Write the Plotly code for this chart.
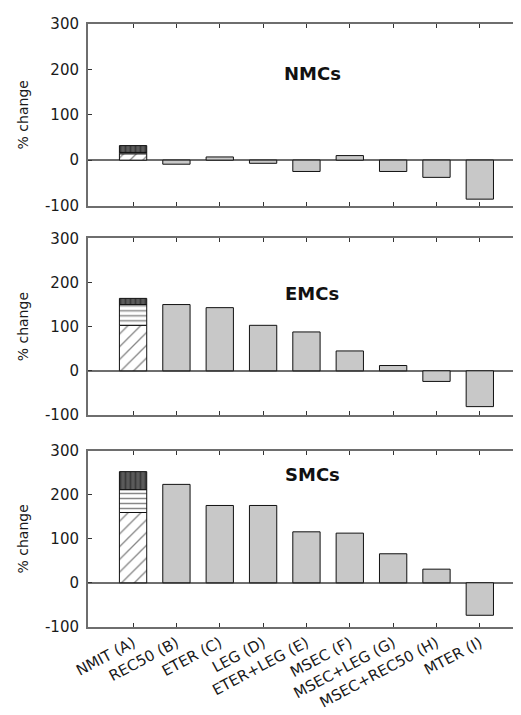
import plotly.graph_objects as go

categories = ["NMIT (A)", "REC50 (B)", "ETER (C)", "LEG (D)", "ETER+LEG (E)",
              "MSEC (F)", "MSEC+LEG (G)", "MSEC+REC50 (H)", "MTER (I)"]
panels = ["NMCs", "EMCs", "SMCs"]

# stacked components of NMIT (A): hatched, striped, dark
nmit_hatch = [14, 103, 160]
nmit_stripe = [3, 47, 52]
nmit_dark = [15, 14, 41]

# other scenarios B..I
other_values = [
    [-9, 7, -7, -25, 10, -25, -38, -86],      # NMCs
    [150, 143, 103, 88, 45, 12, -24, -81],    # EMCs
    [224, 176, 176, 116, 113, 66, 31, -74],   # SMCs
]
y_ticks = [-100, 0, 100, 200, 300]

# page body has an 8px margin; size the figure so it fills the window
OFF = 8
W, H = 521 - OFF, 715 - OFF


def px(sx):
    return (sx - OFF) / W


def py(sy):
    return 1 - (sy - OFF) / H


x0 = px(88)
domains = [(py(205.5), py(24)), (py(415), py(238.3)), (py(626.7), py(451))]
title_y = [61, 293, 474]

fam = "DejaVu Sans, Liberation Sans, Arial, sans-serif"
fig = go.Figure()
axis_gray = "#6e6e6e"

for i in range(3):
    xa = "x" if i == 0 else f"x{i+1}"
    ya = "y" if i == 0 else f"y{i+1}"
    common = dict(xaxis=xa, yaxis=ya, width=0.63, showlegend=False,
                  marker_line=dict(color="#111", width=1))
    fig.add_trace(go.Bar(x=[categories[0]], y=[nmit_hatch[i]],
                         marker=dict(color="white",
                                     pattern=dict(shape="/", fgcolor="#111", bgcolor="white", size=9, solidity=0.15)),
                         **common))
    fig.add_trace(go.Bar(x=[categories[0]], y=[nmit_stripe[i]],
                         marker=dict(color="white",
                                     pattern=dict(shape="-", fgcolor="#111", bgcolor="white", size=5, solidity=0.3)),
                         **common))
    fig.add_trace(go.Bar(x=[categories[0]], y=[nmit_dark[i]],
                         marker=dict(color="#555",
                                     pattern=dict(shape="|", fgcolor="#1a1a1a", bgcolor="#5a5a5a", size=5, solidity=0.35)),
                         **common))
    fig.add_trace(go.Bar(x=categories[1:], y=other_values[i],
                         marker=dict(color="#c8c8c8"), **common))

    xkey = "xaxis" if i == 0 else f"xaxis{i+1}"
    ykey = "yaxis" if i == 0 else f"yaxis{i+1}"
    fig.layout[xkey] = dict(
        domain=[x0, 1], anchor=ya, type="category", categoryorder="array",
        categoryarray=categories, range=[-1.04, 8.95],
        showline=True, linecolor=axis_gray, linewidth=2, mirror="allticks",
        ticks="inside", ticklen=4, tickcolor="#333", tickwidth=1,
        showgrid=False, showticklabels=(i == 2), tickangle=-28,
        tickfont=dict(family=fam, size=15, color="#1a1a1a"), automargin=False,
    )
    if i > 0:
        fig.layout[xkey].matches = "x"
    fig.layout[ykey] = dict(
        domain=list(domains[i]), anchor=xa, range=[-100, 300],
        tickvals=y_ticks, ticktext=[str(v) for v in y_ticks],
        showline=True, linecolor=axis_gray, linewidth=2, mirror="allticks",
        ticks="inside", ticklen=4, tickcolor="#333", tickwidth=1,
        showgrid=False, zeroline=True, zerolinecolor=axis_gray, zerolinewidth=1.5,
        tickfont=dict(family=fam, size=15, color="#1a1a1a"), ticklabelstandoff=4,
        title=dict(text="% change", font=dict(family=fam, size=14, color="#1a1a1a"), standoff=13),
        automargin=False,
    )
    fig.add_annotation(text=f"<b>{panels[i]}</b>", xref="paper", yref="paper",
                       x=px(312), y=py(title_y[i]), showarrow=False,
                       font=dict(family=fam, size=18, color="#111"))

fig.update_layout(
    width=W, height=H, margin=dict(l=0, r=0, t=0, b=0, autoexpand=False),
    barmode="relative",
    plot_bgcolor="white", paper_bgcolor="white",
)

fig.write_html("out.html")
